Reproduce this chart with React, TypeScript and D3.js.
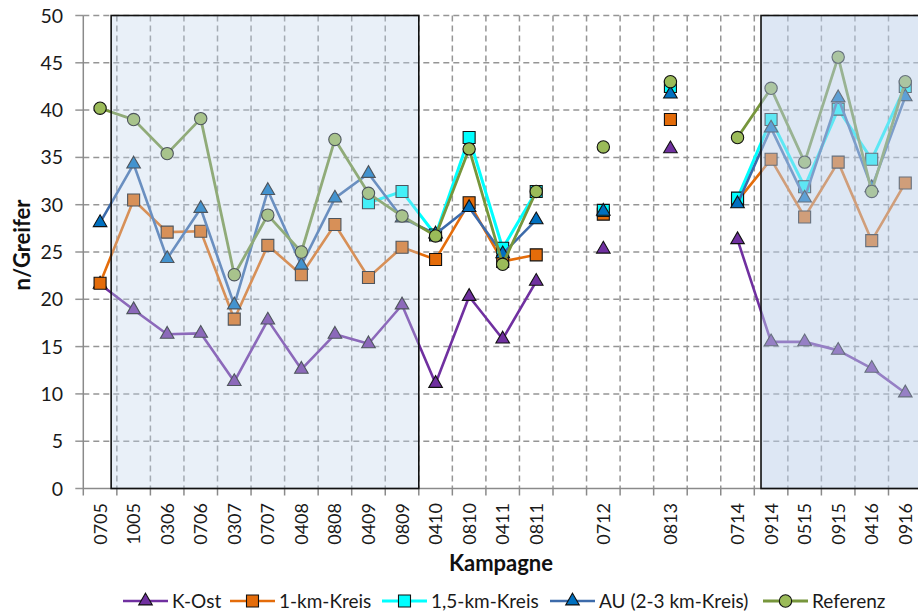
import React from "react";
import * as d3 from "d3";

// ---- data ----
const categories: string[] = [
  "0705", "1005", "0306", "0706", "0307", "0707", "0408", "0808", "0409", "0809",
  "0410", "0810", "0411", "0811", "", "0712", "", "0813", "", "0714",
  "0914", "0515", "0915", "0416", "0916",
];

const kOst: (number | null)[] = [
  21.6, 18.9, 16.3, 16.4, 11.3, 17.8, 12.6, 16.3, 15.3, 19.4,
  11.1, 20.3, 15.8, 21.9, null, 25.3, null, 35.9, null, 26.3,
  15.5, 15.5, 14.6, 12.7, 10.1,
];

const km1: (number | null)[] = [
  21.7, 30.5, 27.1, 27.2, 17.9, 25.7, 22.6, 27.9, 22.3, 25.5,
  24.2, 30.2, 24.0, 24.7, null, 29.0, null, 39.0, null, 30.4,
  34.8, 28.7, 34.5, 26.2, 32.3,
];

const km15: (number | null)[] = [
  null, null, null, null, null, null, null, null, 30.2, 31.4,
  26.8, 37.1, 25.4, 31.4, null, 29.4, null, 42.5, null, 30.7,
  39.0, 31.9, 40.1, 34.8, 42.5,
];

const au: (number | null)[] = [
  28.1, 34.3, 24.3, 29.6, 19.4, 31.5, 23.6, 30.7, 33.3, 28.6,
  26.9, 29.7, 24.8, 28.4, null, 29.3, null, 41.7, null, 30.1,
  38.1, 30.7, 41.3, 31.8, 41.4,
];

const referenz: (number | null)[] = [
  40.2, 39.0, 35.4, 39.1, 22.6, 28.9, 25.0, 36.9, 31.2, 28.8,
  26.7, 35.9, 23.7, 31.4, null, 36.1, null, 43.0, null, 37.1,
  42.3, 34.5, 45.6, 31.4, 43.0,
];

const yTicks: number[] = [0, 5, 10, 15, 20, 25, 30, 35, 40, 45, 50];

const seriesNames: string[] = ["K-Ost", "1-km-Kreis", "1,5-km-Kreis", "AU (2-3 km-Kreis)", "Referenz"];

// ---- styling ----
const FONT = "Lato, Carlito, 'Open Sans', sans-serif";

type Shape = "triangle" | "square" | "circle";
const seriesStyle: { line: string; fill: string; shape: Shape; width: number }[] = [
  { line: "#7030A0", fill: "#7030A0", shape: "triangle", width: 2.6 },
  { line: "#E46C0A", fill: "#E46C0A", shape: "square", width: 2.6 },
  { line: "#00FFFF", fill: "#00FFFF", shape: "square", width: 3 },
  { line: "#3D6BAA", fill: "#0070C0", shape: "triangle", width: 2.6 },
  { line: "#77963C", fill: "#9BBB59", shape: "circle", width: 2.8 },
];
const seriesData = [kOst, km1, km15, au, referenz];

function symbolPath(shape: Shape): string {
  if (shape === "triangle") return d3.symbol().type(d3.symbolTriangle).size(80)()!;
  if (shape === "square") return d3.symbol().type(d3.symbolSquare).size(144)()!;
  return d3.symbol().type(d3.symbolCircle).size(120)()!;
}

export default function App() {
  const W = 918;
  const H = 614;
  const left = 83.3;
  const bw = 33.55;
  const top = 15.5;
  const bottom = 488.5;

  const x = d3
    .scaleBand<number>()
    .domain(d3.range(categories.length))
    .range([left, left + bw * categories.length])
    .paddingInner(0)
    .paddingOuter(0);
  const y = d3.scaleLinear().domain([0, 50]).range([bottom, top]);
  const cx = (i: number) => (x(i) as number) + x.bandwidth() / 2;
  const slot = (f: number) => left + f * x.bandwidth();
  const right = left + x.bandwidth() * categories.length;

  const lineGen = d3
    .line<number | null>()
    .defined((d) => d != null)
    .x((_, i) => cx(i))
    .y((d) => y(d as number));

  const gridColor = "#959595";
  const boundaries = d3.range(1, categories.length + 1);

  const boxes = [
    { x0: slot(0.83), x1: slot(10), fill: "#C0D4EC", op: 0.35 },
    { x0: slot(20.2), x1: right + 10, fill: "#BCD0EA", op: 0.5 },
  ];

  const legendX = [123, 230, 382, 550, 763];
  const legendY = 601;

  return (
    <svg
      width={W}
      height={H}
      style={{ position: "absolute", left: 0, top: 0, background: "#fff" }}
      fontFamily={FONT}
    >
      {/* horizontal gridlines */}
      {yTicks.map((t) => (
        <g key={"h" + t}>
          {t > 0 && (
            <line x1={left} x2={W} y1={y(t)} y2={y(t)} stroke={gridColor} strokeWidth={1.5} strokeDasharray="6,4" />
          )}
          <line x1={left - 8} x2={left} y1={y(t)} y2={y(t)} stroke={gridColor} strokeWidth={1.5} />
          <text x={63} y={y(t)} dy="0.36em" textAnchor="end" fontSize={19.5} fill="#1a1a1a">
            {t}
          </text>
        </g>
      ))}
      {/* vertical gridlines */}
      {boundaries.map((b) => (
        <line
          key={"v" + b}
          x1={slot(b)}
          x2={slot(b)}
          y1={top}
          y2={bottom}
          stroke={gridColor}
          strokeWidth={1.5}
          strokeDasharray="6,4"
        />
      ))}
      {/* axes */}
      <line x1={left} x2={left} y1={top} y2={bottom + 7} stroke="#8A8A8A" strokeWidth={1.5} />
      <line x1={left} x2={W} y1={bottom} y2={bottom} stroke="#8A8A8A" strokeWidth={1.5} />
      {boundaries.map((b) => (
        <line key={"t" + b} x1={slot(b)} x2={slot(b)} y1={bottom} y2={bottom + 7} stroke="#8A8A8A" strokeWidth={1.5} />
      ))}
      {/* x labels */}
      {categories.map((c, i) =>
        c ? (
          <text
            key={"xl" + i}
            transform={`translate(${cx(i) + 6.5},${503}) rotate(-90)`}
            textAnchor="end"
            fontSize={18}
            fill="#1a1a1a"
          >
            {c}
          </text>
        ) : null
      )}

      {/* series */}
      {seriesData.map((vals, s) => {
        const st = seriesStyle[s];
        const path = symbolPath(st.shape);
        return (
          <g key={"s" + s}>
            <path d={lineGen(vals) || ""} fill="none" stroke={st.line} strokeWidth={st.width} strokeLinejoin="round" />
            {vals.map((v, i) =>
              v == null ? null : (
                <path
                  key={i}
                  d={path}
                  transform={`translate(${cx(i)},${y(v)})`}
                  fill={st.fill}
                  stroke="#111"
                  strokeWidth={1.1}
                />
              )
            )}
          </g>
        );
      })}

      {/* shaded boxes */}
      {boxes.map((b, i) => (
        <g key={"b" + i}>
          <rect x={b.x0} y={top} width={b.x1 - b.x0} height={bottom - top} fill={b.fill} fillOpacity={b.op} />
          <rect
            x={b.x0}
            y={top}
            width={b.x1 - b.x0}
            height={bottom - top}
            fill="none"
            stroke="#111"
            strokeWidth={1.6}
          />
        </g>
      ))}

      {/* axis titles */}
      <text x={501} y={571} textAnchor="middle" fontSize={22} fontWeight="bold" fill="#111">
        Kampagne
      </text>
      <text
        transform={`translate(${30},${245}) rotate(-90)`}
        textAnchor="middle"
        fontSize={22}
        fontWeight="bold"
        fill="#111"
      >
        n/Greifer
      </text>

      {/* legend */}
      {seriesNames.map((n, s) => {
        const st = seriesStyle[s];
        const lx = legendX[s];
        return (
          <g key={"lg" + s}>
            <line x1={lx} x2={lx + 45} y1={legendY} y2={legendY} stroke={st.line} strokeWidth={st.width} />
            <path
              d={symbolPath(st.shape)}
              transform={`translate(${lx + 22.5},${legendY})`}
              fill={st.fill}
              stroke="#111"
              strokeWidth={1.1}
            />
            <text x={lx + 49} y={legendY} dy="0.35em" fontSize={19} fill="#1a1a1a">
              {n}
            </text>
          </g>
        );
      })}
    </svg>
  );
}
